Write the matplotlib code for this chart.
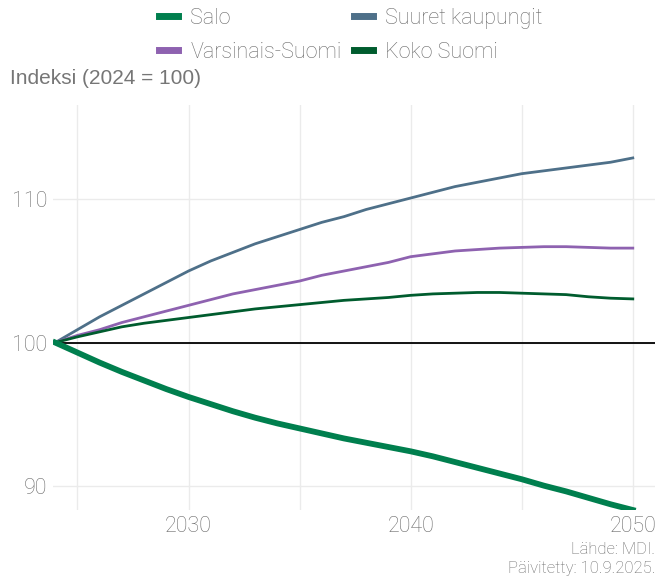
import matplotlib
matplotlib.use("Agg")
import matplotlib.pyplot as plt
import matplotlib.lines as mlines

years = list(range(2024, 2051))
salo = [100, 99.3, 98.6, 97.95, 97.35, 96.75, 96.2, 95.7, 95.2, 94.75, 94.35, 94.0, 93.65,
        93.3, 93.0, 92.7, 92.4, 92.05, 91.65, 91.25, 90.85, 90.45, 90.0, 89.6, 89.15, 88.7, 88.3]
suuret = [100, 100.9, 101.8, 102.6, 103.4, 104.2, 105.0, 105.7, 106.3, 106.9, 107.4, 107.9, 108.4,
          108.8, 109.3, 109.7, 110.1, 110.5, 110.9, 111.2, 111.5, 111.8, 112.0, 112.2, 112.4, 112.6, 112.9]
varsinais = [100, 100.5, 100.9, 101.4, 101.8, 102.2, 102.6, 103.0, 103.4, 103.7, 104.0, 104.3, 104.7,
             105.0, 105.3, 105.6, 106.0, 106.2, 106.4, 106.5, 106.6, 106.65, 106.7, 106.7, 106.65, 106.6, 106.6]
koko = [100, 100.4, 100.75, 101.1, 101.35, 101.55, 101.75, 101.95, 102.15, 102.35, 102.5, 102.65, 102.8,
        102.95, 103.05, 103.15, 103.3, 103.4, 103.45, 103.5, 103.5, 103.45, 103.4, 103.35, 103.2, 103.1, 103.05]

labels = ["Salo", "Varsinais-Suomi", "Suuret kaupungit", "Koko Suomi"]
x_ticks = [2030, 2040, 2050]
y_ticks = [90, 100, 110]

plt.rcParams['font.family'] = ['Roboto', 'DejaVu Sans']
plt.rcParams['font.weight'] = 'light'
gray = "#6b6b6b"

fig = plt.figure(figsize=(6.58, 5.77), dpi=100)
ax = fig.add_axes([53/658, (577-510)/577, (655-53)/658, (510-105)/577])

ax.axhline(100, color="black", lw=1.3, zorder=2)
lines = {}
lines["Suuret kaupungit"] = ax.plot(years, suuret, color="#4E7089", lw=2.0, zorder=3)[0]
lines["Varsinais-Suomi"] = ax.plot(years, varsinais, color="#8E62B0", lw=2.0, zorder=3)[0]
lines["Koko Suomi"] = ax.plot(years, koko, color="#005C2E", lw=2.0, zorder=3)[0]
lines["Salo"] = ax.plot(years, salo, color="#007F4E", lw=4.2, zorder=4)[0]

ax.set_xlim(2023.9, 2051)
ax.set_ylim(88.3, 116.6)
ax.set_xticks(x_ticks)
ax.set_xticks([2025, 2035, 2045], minor=True)
ax.set_yticks(y_ticks)
ax.grid(True, which="both", axis="x", color="#EBEBEB", lw=1.0)
ax.grid(True, which="major", axis="y", color="#EBEBEB", lw=1.0)
ax.set_axisbelow(True)
for s in ax.spines.values():
    s.set_visible(False)
ax.tick_params(which="both", length=0, labelsize=15.5, labelcolor=gray, pad=4)

handles = [mlines.Line2D([], [], color=lines[n].get_color(), lw=5) for n in labels]
fig.legend(handles, labels, ncol=2, loc="upper center", bbox_to_anchor=(351/658, 1.02),
           frameon=False, fontsize=15.5, labelcolor=gray, handlelength=0.88,
           handletextpad=0.55, columnspacing=0.6, labelspacing=0.6)

fig.text(10/658, 1 - 79/577, "Indeksi (2024 = 100)", fontsize=15, color="#767676",
         va="center", ha="left", family=["Liberation Sans", "DejaVu Sans"], weight="normal")
fig.text(655/658, 1 - 550/577, "Lähde: MDI.", fontsize=12, color=gray, ha="right", va="center")
fig.text(655/658, 1 - 568/577, "Päivitetty: 10.9.2025.", fontsize=12, color=gray, ha="right", va="center")

fig.savefig("out.png", dpi=100)
